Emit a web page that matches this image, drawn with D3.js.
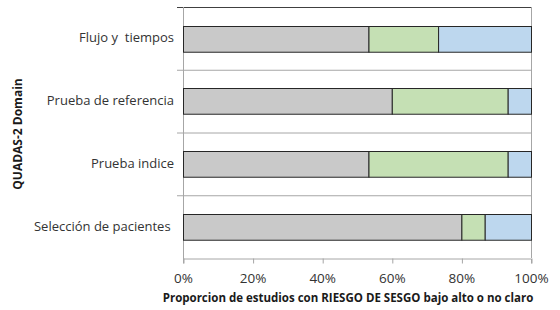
<!DOCTYPE html>
<html>
<head>
<meta charset="utf-8">
<script src="https://cdn.jsdelivr.net/npm/d3@7"></script>
<style>
  body { margin: 0; background: #fff; }
  svg { display: block; font-family: "Open Sans", sans-serif; }
</style>
</head>
<body>
<svg id="chart" width="560" height="310"></svg>
<script>
var domains = ["Flujo y  tiempos", "Prueba de referencia", "Prueba indice", "Selección de pacientes "];
var bajo = [53.3, 60, 53.3, 80];
var alto = [20, 33.3, 40, 6.7];
var noClaro = [26.7, 6.7, 6.7, 13.3];
var seriesColors = ["#c9c9c9", "#c5e0b4", "#bdd7ee"];
var xTicks = [0, 20, 40, 60, 80, 100];

var svg = d3.select("#chart");
var margin = {left: 183, right: 29, top: 7, bottom: 52};
var w = 560 - margin.left - margin.right;
var h = 310 - margin.top - margin.bottom;

var x = d3.scaleLinear().domain([0, 100]).range([margin.left, margin.left + w]);
var y = d3.scaleBand().domain(domains).range([margin.top, margin.top + h]).paddingInner(0).paddingOuter(0);

// stack the three series per domain
var rows = domains.map(function(d, i) {
  return {domain: d, bajo: bajo[i], alto: alto[i], noClaro: noClaro[i]};
});
var stack = d3.stack().keys(["bajo", "alto", "noClaro"]);
var layers = stack(rows);

// grid lines between categories
var bounds = domains.map(function(d) { return y(d); }).concat([margin.top + h]);
svg.selectAll(".grid")
  .data(bounds.slice(1, 4))
  .enter().append("line")
  .attr("x1", margin.left - 6).attr("x2", x(100))
  .attr("y1", function(d) { return d + 0.5; }).attr("y2", function(d) { return d + 0.5; })
  .attr("stroke", "#a6a6a6");

// plot box top + right
svg.append("line").attr("x1", margin.left - 6).attr("x2", x(100) + 0.5)
  .attr("y1", margin.top + 0.5).attr("y2", margin.top + 0.5).attr("stroke", "#404040");
svg.append("line").attr("x1", x(100) + 0.5).attr("x2", x(100) + 0.5)
  .attr("y1", margin.top).attr("y2", margin.top + h).attr("stroke", "#a6a6a6");
svg.append("line").attr("x1", margin.left + 0.5).attr("x2", margin.left + 0.5)
  .attr("y1", margin.top).attr("y2", margin.top + h + 5).attr("stroke", "#a6a6a6");

var barH = y.bandwidth() * 0.41;
svg.selectAll(".layer")
  .data(layers)
  .enter().append("g")
  .attr("fill", function(d, i) { return seriesColors[i]; })
  .selectAll("rect")
  .data(function(d) { return d; })
  .enter().append("rect")
  .attr("x", function(d) { return x(d[0]) + 0.5; })
  .attr("width", function(d) { return x(d[1]) - x(d[0]); })
  .attr("y", function(d) { return Math.round(y(d.data.domain) + (y.bandwidth() - barH) / 2) + 0.5; })
  .attr("height", barH)
  .attr("stroke", "#262626")
  .attr("stroke-width", 1);

// x axis
var xAxis = svg.append("g")
  .attr("transform", "translate(0," + (margin.top + h + 0.5) + ")")
  .call(d3.axisBottom(x).tickValues(xTicks).tickSize(5).tickPadding(10)
    .tickFormat(function(d) { return d + "%"; }));
xAxis.select(".domain").attr("stroke", "#a6a6a6");
xAxis.selectAll(".tick line").attr("stroke", "#a6a6a6").attr("transform", "translate(0.5,0)");
xAxis.selectAll("text").attr("font-size", 13.5).attr("fill", "#333").attr("font-family", "Open Sans");

// y labels
svg.selectAll(".ylab")
  .data(domains)
  .enter().append("text")
  .attr("x", 174)
  .attr("y", function(d) { return y(d) + y.bandwidth() / 2 + 0.5; })
  .attr("text-anchor", "end")
  .attr("dominant-baseline", "middle")
  .attr("font-size", 13)
  .attr("fill", "#333")
  .style("white-space", "pre")
  .text(function(d) { return d; });

// titles
svg.append("text")
  .attr("transform", "translate(19,134) rotate(-90)")
  .attr("text-anchor", "middle")
  .attr("dominant-baseline", "middle")
  .attr("font-size", 12)
  .attr("font-weight", "bold")
  .attr("fill", "#1a1a1a")
  .text("QUADAS-2 Domain");

svg.append("text")
  .attr("x", 348)
  .attr("y", 302)
  .attr("text-anchor", "middle")
  .attr("font-size", 11.5)
  .attr("font-weight", "bold")
  .attr("fill", "#1a1a1a")
  .text("Proporcion de estudios con RIESGO DE SESGO bajo alto o no claro");
</script>
</body>
</html>
